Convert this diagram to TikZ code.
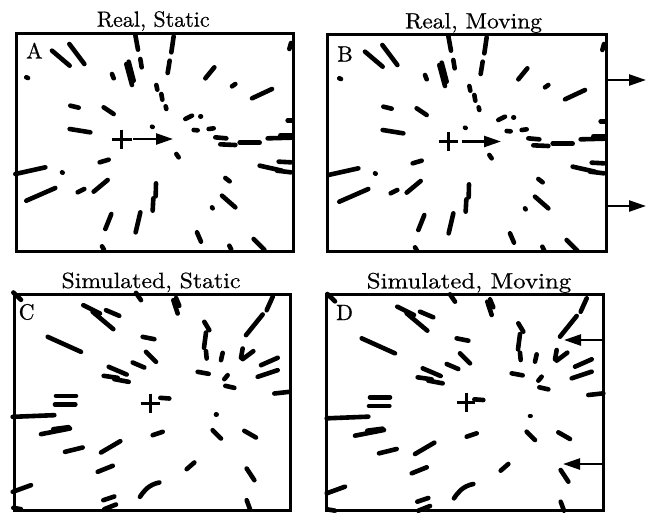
\documentclass[tikz,border=0pt]{standalone}
\usepackage{graphicx}
\usepackage{fontspec}
\newfontfamily\ttlfont{lmroman10-regular.otf}[FakeBold=0.6]
\usetikzlibrary{arrows.meta}
\newcommand{\patAB}{%
\draw[seg] (225,155)--(278,200);
\draw[seg] (277,135)--(322,195);
\draw[seg] (148,235)--(153,237);
\draw[seg] (475,108)--(483,152);
\draw[seg] (590,112)--(583,160);
\draw[seg] (448,195)--(465,258);
\draw[seg] (455,188)--(470,245);
\draw[seg] (405,225)--(410,238);
\draw[seg] (490,180)--(494,205);
\draw[seg] (578,185)--(572,222);
\draw[seg] (685,238)--(712,205);
\draw[seg] (765,262)--(775,255);
\draw[seg] (825,298)--(885,270);
\draw[seg] (937,150)--(942,132);
\draw[seg] (538,258)--(541,272);
\draw[seg] (553,285)--(556,302);
\draw[seg] (566,322)--(568,330);
\draw[seg] (280,320)--(305,326);
\draw[seg] (380,325)--(410,345);
\draw[seg] (278,390)--(340,400);
\draw[seg] (525,383)--(527,384);
\draw[seg] (625,360)--(645,350);
\draw[seg] (670,352)--(672,352);
\draw[seg] (650,393)--(662,394);
\draw[seg] (695,390)--(710,388);
\draw[seg] (715,415)--(748,418);
\draw[seg] (730,436)--(775,438);
\draw[seg] (788,431)--(848,431);
\draw[seg] (872,418)--(944,416);
\draw[seg] (910,409)--(944,409);
\draw[seg] (932,364)--(945,364);
\draw[seg] (598,465)--(605,475);
\draw[seg] (368,490)--(395,482);
\draw[seg] (115,525)--(205,505);
\draw[seg] (255,520)--(257,521);
\draw[seg] (148,605)--(235,567);
\draw[seg] (302,580)--(322,570);
\draw[seg] (350,578)--(392,543);
\draw[seg] (537,553)--(536,592);
\draw[seg] (529,598)--(527,635);
\draw[seg] (403,645)--(385,690);
\draw[seg] (490,640)--(476,700);
\draw[seg] (745,537)--(758,547);
\draw[seg] (848,500)--(915,515);
\draw[seg] (905,488)--(942,490);
\draw[seg] (900,515)--(942,520);
\draw[seg] (735,590)--(775,625);
\draw[seg] (705,625)--(707,628);
\draw[seg] (660,700)--(672,728);
\draw[seg] (375,742)--(381,752);
\draw[seg] (757,740)--(763,752);
\draw[seg] (830,720)--(862,752);
}
\newcommand{\patCD}{%
\draw[seg] (112,102)--(135,124);
\draw[seg] (322,140)--(372,165);
\draw[seg] (350,160)--(412,212);
\draw[seg] (390,155)--(430,172);
\draw[seg] (480,103)--(495,125);
\draw[seg] (592,125)--(605,165);
\draw[seg] (600,118)--(610,142);
\draw[seg] (890,115)--(872,155);
\draw[seg] (860,168)--(810,230);
\draw[seg] (215,235)--(315,280);
\draw[seg] (500,235)--(535,242);
\draw[seg] (685,190)--(700,215);
\draw[seg] (690,222)--(684,268);
\draw[seg] (690,278)--(692,300);
\draw[seg] (740,283)--(735,305);
\draw[seg] (800,270)--(795,298);
\draw[seg] (832,278)--(800,302);
\draw[seg] (855,320)--(905,298);
\draw[seg] (845,355)--(905,335);
\draw[seg] (510,280)--(540,310);
\draw[seg] (470,312)--(505,327);
\draw[seg] (398,325)--(452,348);
\draw[seg] (383,352)--(425,358);
\draw[seg] (415,362)--(458,370);
\draw[seg] (665,340)--(698,346);
\draw[seg] (745,362)--(755,350);
\draw[seg] (748,382)--(775,388);
\draw[seg] (240,412)--(300,412);
\draw[seg] (237,438)--(298,438);
\draw[seg] (553,418)--(580,420);
\draw[seg] (110,475)--(235,470);
\draw[seg] (195,527)--(282,510);
\draw[seg] (232,512)--(278,506);
\draw[seg] (720,468)--(722,468);
\draw[seg] (710,515)--(735,540);
\draw[seg] (805,517)--(840,537);
\draw[seg] (530,530)--(560,520);
\draw[seg] (267,580)--(320,567);
\draw[seg] (375,582)--(433,548);
\draw[seg] (365,640)--(410,622);
\draw[seg] (632,632)--(655,612);
\draw[seg] (812,630)--(835,665);
\draw[seg] (110,700)--(165,680);
\draw[seg] (492,715) .. controls (505,695) and (520,678) .. (550,672);
\draw[seg] (382,725)--(415,714);
\draw[seg] (385,752)--(420,738);
\draw[seg] (812,725)--(822,752);
\draw[seg] (895,405)--(940,400);
\draw[seg] (112,748)--(135,752);
}
\begin{document}
\begin{tikzpicture}[x=1pt,y=-1pt,
  seg/.style={line width=4.6pt,line cap=round},
  frame/.style={line width=3pt},
  plusline/.style={line width=3pt},
  arr/.style={line width=2.4pt,-{Triangle[length=17pt,width=11pt]}},
  ttl/.style={font=\ttlfont\fontsize{22}{26}\selectfont, anchor=base, inner sep=0pt},
  lbl/.style={font=\ttlfont\fontsize{22}{26}\selectfont, anchor=base west, inner sep=0pt}]
\useasboundingbox[fill=white] (0,0) rectangle (648,515);
% frames
\draw[frame] (16,33.5) rectangle (293,251);
\draw[frame] (327,34) rectangle (606,251);
\draw[frame] (14.5,294) rectangle (290,510.5);
\draw[frame] (326,294) rectangle (603,510.5);
% titles
\node[ttl] (tA) at (153.3,26.7) {\scalebox{1.0}[1]{Real, Static}};
\node[ttl] (tB) at (473.5,28.3) {\scalebox{1.07}[1]{Real, Moving}};
\node[ttl] (tC) at (151,288) {\scalebox{1.08}[1]{Simulated, Static}};
\node[ttl] (tD) at (469,288.3) {\scalebox{1.13}[1]{Simulated, Moving}};
% panel letters
\node[lbl] (lA) at (26,58.5) {A};
\node[lbl] (lB) at (337,61.5) {B};
\node[lbl] (lC) at (18.5,319.5) {C};
\node[lbl] (lD) at (336,320) {D};
% patterns
\begin{scope}[shift={(-23pt,1pt)},x=0.33333pt,y=-0.33333pt]\patAB\end{scope}
\begin{scope}[shift={(290pt,0pt)},x=0.33333pt,y=-0.33333pt]\patAB\end{scope}
\begin{scope}[shift={(-24pt,-258.5pt)},x=0.33333pt,y=-0.33333pt]\patCD\end{scope}
\begin{scope}[shift={(290pt,-260pt)},x=0.33333pt,y=-0.33333pt]\patCD\end{scope}
% fixation crosses
\draw[plusline] (111.5,139)--(131.5,139) (121.5,129.5)--(121.5,148.5);
\draw[plusline] (438.5,141.5)--(458,141.5) (448.3,132)--(448.3,151);
\draw[plusline] (140.5,403)--(159.5,403) (150,393.5)--(150,412.5);
\draw[plusline] (456.5,402)--(475,402) (466,392.5)--(466,411.5);
% arrows
\coordinate (a1) at (133,139); \coordinate (a2) at (173,139);
\draw[arr] (a1)--(a2);
\coordinate (b1) at (461.5,141.5); \coordinate (b2) at (501,141.5);
\draw[arr] (b1)--(b2);
\coordinate (b3) at (606,80); \coordinate (b4) at (646,80);
\draw[arr] (b3)--(b4);
\coordinate (b5) at (606,206); \coordinate (b6) at (646,206);
\draw[arr] (b5)--(b6);
\coordinate (d1) at (603,340); \coordinate (d2) at (564,340);
\draw[arr] (d1)--(d2);
\coordinate (d3) at (603,464); \coordinate (d4) at (563,464);
\draw[arr] (d3)--(d4);
\end{tikzpicture}
\end{document}
